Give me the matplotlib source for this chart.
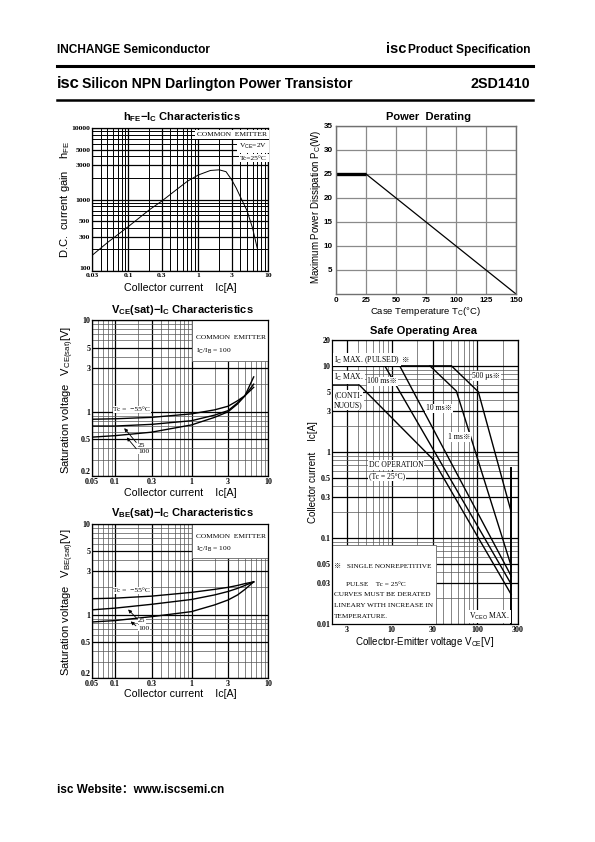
import matplotlib
matplotlib.use("Agg")
import matplotlib.pyplot as plt
from matplotlib.patches import Rectangle
from matplotlib.ticker import FixedLocator, FixedFormatter, NullFormatter, LogLocator, MultipleLocator

plt.rcParams['mathtext.fontset'] = 'custom'
plt.rcParams['mathtext.rm'] = 'Liberation Sans'
plt.rcParams['mathtext.bf'] = 'Liberation Sans:bold'
plt.rcParams['font.family'] = ['Liberation Sans', 'DejaVu Sans']

W, H = 595, 842

# hFE - Ic  (VCE = 2V, Tc = 25C)
hfe_ic = [0.03, 0.05, 0.1, 0.2, 0.3, 0.5, 0.7, 1.0, 1.5, 2.0, 2.5, 3.0, 3.5, 4.0, 5.0, 6.0, 7.0]
hfe_val = [165, 250, 420, 720, 950, 1400, 1800, 2200, 2550, 2600, 2450, 1900, 1450, 1100, 700, 400, 210]

# power derating
pd_tc = [0, 25, 150]
pd_pc = [25, 25, 0]

# saturation voltages, Ic/Ib = 100
sat_ic = [0.05, 0.1, 0.3, 1, 2, 3, 4, 5, 6.5]
vce_m55 = [0.83, 0.84, 0.87, 0.95, 1.05, 1.15, 1.32, 1.5, 1.85]
vce_25 = [0.70, 0.70, 0.73, 0.80, 0.92, 1.03, 1.25, 1.5, 2.0]
vce_100 = [0.53, 0.55, 0.60, 0.72, 0.87, 1.0, 1.22, 1.5, 2.4]
vbe_m55 = [1.5, 1.52, 1.6, 1.76, 1.9, 2.0, 2.1, 2.2, 2.3]
vbe_25 = [1.13, 1.18, 1.3, 1.47, 1.65, 1.8, 1.95, 2.1, 2.3]
vbe_100 = [0.83, 0.86, 0.95, 1.08, 1.28, 1.45, 1.65, 1.9, 2.3]

# safe operating area
dc_v = [2, 4.17, 30, 250]
dc_i = [6, 6, 0.83, 0.022]
ms100_v = [8.3, 250]
ms100_i = [10, 0.029]
ms10_v = [12.4, 250]
ms10_i = [10, 0.036]
ms1_v = [28, 57, 250]
ms1_i = [10, 5.1, 0.047]
us500_v = [50, 103, 250, 250]
us500_i = [10, 5.0, 0.2, 0.65]
vceo = 250
ic_pulse = 10
ic_cont = 6

log_x_ticks = [0.03, 0.1, 0.3, 1, 3, 10]
sat_x_ticks = [0.05, 0.1, 0.3, 1, 3, 10]
sat_y_ticks = [0.2, 0.5, 1, 3, 5, 10]
hfe_y_ticks = [100, 300, 500, 1000, 3000, 5000, 10000]
soa_x_ticks = [3, 10, 30, 100, 300]
soa_y_ticks = [0.01, 0.03, 0.05, 0.1, 0.3, 0.5, 1, 3, 5, 10, 20]

SERIF = ['Liberation Serif', 'DejaVu Serif', 'Noto Sans CJK JP']

fig = plt.figure(figsize=(W / 100, H / 100), dpi=100)


def box(l, t, r, b):
    return [l / W, 1 - b / H, (r - l) / W, (b - t) / H]


def log_axes(rect, xlim, ylim, xt, yt, tsize=5.8):
    ax = fig.add_axes(rect)
    ax.set_xscale('log')
    ax.set_yscale('log')
    ax.set_xlim(*xlim)
    ax.set_ylim(*ylim)
    ax.xaxis.set_major_locator(FixedLocator(xt))
    ax.xaxis.set_major_formatter(FixedFormatter([('%g' % v) for v in xt]))
    ax.yaxis.set_major_locator(FixedLocator(yt))
    ax.yaxis.set_major_formatter(FixedFormatter([('%g' % v) for v in yt]))
    ax.xaxis.set_minor_locator(LogLocator(base=10, subs=range(1, 10), numticks=50))
    ax.yaxis.set_minor_locator(LogLocator(base=10, subs=range(1, 10), numticks=50))
    ax.xaxis.set_minor_formatter(NullFormatter())
    ax.yaxis.set_minor_formatter(NullFormatter())
    ax.tick_params(which='both', length=0, pad=1.2)
    labs = ax.get_xticklabels() + ax.get_yticklabels()
    for lab in labs:
        lab.set_family(SERIF)
        lab.set_fontsize(tsize)
        lab.set_weight('bold')
    # bottom-left corner: lift the lowest y label so it clears the first x label
    if xt[0] == xlim[0]:
        ax.get_yticklabels()[0].set_va('bottom')
    ax.grid(which='minor', color='#555555', lw=0.5)
    ax.grid(which='major', color='black', lw=0.9)
    ax.set_axisbelow(True)
    for s in ax.spines.values():
        s.set_linewidth(0.9)
    return ax


def title(x, y, s):
    fig.text(x / W, 1 - y / H, s, ha='center', va='center', fontsize=8, weight='bold')


def label(x, y, s, rot=0, size=7.7):
    fig.text(x / W, 1 - y / H, s, ha='center', va='center', fontsize=size, rotation=rot)


# ---------------- header / footer ----------------
fig.text(57 / W, 1 - 50 / H, 'INCHANGE Semiconductor', fontsize=8.6, weight='bold', va='center')
fig.text(386 / W, 1 - 49 / H, 'isc', fontsize=10.5, weight='bold', va='center')
fig.text(530 / W, 1 - 50 / H, 'Product Specification', fontsize=8.6, weight='bold', va='center', ha='right')
fig.add_artist(plt.Line2D([57 / W, 533 / W], [1 - 66 / H, 1 - 66 / H], color='black', lw=2.2))
fig.text(57 / W, 1 - 84 / H, 'isc', fontsize=12, weight='bold', va='center')
fig.text(82 / W, 1 - 84 / H, 'Silicon NPN Darlington Power Transistor', fontsize=10.1, weight='bold', va='center')
fig.text(530 / W, 1 - 84 / H, '2SD1410', fontsize=10.3, weight='bold', va='center', ha='right')
fig.add_artist(plt.Line2D([57 / W, 533 / W], [1 - 100 / H, 1 - 100 / H], color='black', lw=1.8))
fig.text(57 / W, 1 - 790 / H, 'isc Website\uff1awww.iscsemi.cn', fontsize=8.5, weight='bold', va='center',
         family=['Liberation Sans', 'Noto Sans CJK SC'])

# ---------------- hFE - Ic ----------------
ax1 = log_axes(box(92, 128, 268, 271), (0.03, 10), (100, 10000), log_x_ticks, hfe_y_ticks, tsize=5.4)
ax1.grid(which='minor', color='black', lw=0.7)
ax1.plot(hfe_ic, hfe_val, color='black', lw=0.7)
tkw = dict(transform=ax1.transAxes, ha='right', va='center', fontsize=5.4, family=SERIF,
           bbox=dict(fc='white', ec='none', pad=1.2))
ax1.text(0.995, 0.955, 'COMMON  EMITTER', **tkw)
ax1.text(0.995, 0.87, 'V$_{\\rm CE}$=2V', **tkw)
ax1.text(0.995, 0.79, 'Tc=25\u00b0C', **tkw)
title(182, 117, 'h$_{\\bf FE}$\u2212I$_{\\bf C}$ Characteristics')
label(180, 288, 'Collector current    Ic[A]')
label(65, 199, 'D.C.  current gain    h$_{\\rm FE}$', rot=90, size=8)

# ---------------- Power derating ----------------
ax2 = fig.add_axes(box(336, 126, 516, 294))
ax2.plot(pd_tc[:2], pd_pc[:2], color='black', lw=2.4, solid_capstyle='butt')
ax2.plot(pd_tc[1:], pd_pc[1:], color='black', lw=0.9)
ax2.set_xlim(0, 150)
ax2.set_ylim(0, 35)
ax2.xaxis.set_major_locator(MultipleLocator(25))
ax2.set_yticks([5, 10, 15, 20, 25, 30, 35])
ax2.grid(color='#8a8a8a', lw=0.9)
ax2.set_axisbelow(True)
ax2.tick_params(length=0, pad=2.5, labelsize=5.8)
for lab in ax2.get_xticklabels() + ax2.get_yticklabels():
    lab.set_weight('bold')
for s in ax2.spines.values():
    s.set_color('#707070')
    s.set_linewidth(1.0)
title(428, 117, 'Power  Derating')
label(426, 311, 'Case Temperature T$_{\\rm C}$(\u00b0C)', size=6.8)
label(316, 207, 'Maximum Power Dissipation P$_{\\rm C}$(W)', rot=90, size=7)

# ---------------- VCE(sat) - Ic ----------------
ax3 = log_axes(box(92, 320, 268, 476), (0.05, 10), (0.2, 10), sat_x_ticks, sat_y_ticks)
ax3.add_patch(Rectangle((1, 3.6), 9, 6.4, fc='white', ec='#666666', lw=0.6, zorder=1.5))
for v in (vce_m55, vce_25, vce_100):
    ax3.plot(sat_ic, v, color='black', lw=1.0, zorder=3)
skw = dict(ha='left', va='center', fontsize=5.4, family=SERIF, zorder=4)
ax3.text(1.15, 6.4, 'COMMON  EMITTER', **skw)
ax3.text(1.15, 4.6, 'I$_{\\rm C}$/I$_{\\rm B}$ = 100', **skw)
ax3.text(0.095, 1.06, 'Tc =  \u221255\u00b0C', bbox=dict(fc='white', ec='none', pad=0.5), **skw)
ax3.text(0.2, 0.43, '25', bbox=dict(fc='white', ec='none', pad=0.3), **skw)
ax3.text(0.2, 0.37, '100', bbox=dict(fc='white', ec='none', pad=0.3), **skw)
ax3.annotate('', xy=(0.125, 0.70), xytext=(0.2, 0.44),
             arrowprops=dict(arrowstyle='-|>', lw=0.6, color='black', mutation_scale=5), zorder=4)
ax3.annotate('', xy=(0.135, 0.555), xytext=(0.2, 0.375),
             arrowprops=dict(arrowstyle='-|>', lw=0.6, color='black', mutation_scale=5), zorder=4)
title(182, 310, 'V$_{\\bf CE}$(sat)\u2212I$_{\\bf C}$ Characteristics')
label(180, 493, 'Collector current    Ic[A]')
label(68, 400, 'Saturation voltage   V$_{\\rm CE(sat)}$[V]', rot=90, size=8)

# ---------------- VBE(sat) - Ic ----------------
ax4 = log_axes(box(92, 524, 268, 678), (0.05, 10), (0.2, 10), sat_x_ticks, sat_y_ticks)
ax4.add_patch(Rectangle((1, 4.2), 9, 5.8, fc='white', ec='#666666', lw=0.6, zorder=1.5))
for v in (vbe_m55, vbe_25, vbe_100):
    ax4.plot(sat_ic, v, color='black', lw=1.0, zorder=3)
ax4.text(1.15, 7.3, 'COMMON  EMITTER', **skw)
ax4.text(1.15, 5.3, 'I$_{\\rm C}$/I$_{\\rm B}$ = 100', **skw)
ax4.text(0.095, 1.85, 'Tc =  \u221255\u00b0C', bbox=dict(fc='white', ec='none', pad=0.5), **skw)
ax4.text(0.2, 0.86, '25', bbox=dict(fc='white', ec='none', pad=0.3), **skw)
ax4.text(0.2, 0.71, '100', bbox=dict(fc='white', ec='none', pad=0.3), **skw)
ax4.annotate('', xy=(0.14, 1.2), xytext=(0.2, 0.88),
             arrowprops=dict(arrowstyle='-|>', lw=0.6, color='black', mutation_scale=5), zorder=4)
ax4.annotate('', xy=(0.15, 0.88), xytext=(0.2, 0.72),
             arrowprops=dict(arrowstyle='-|>', lw=0.6, color='black', mutation_scale=5), zorder=4)
title(182, 513, 'V$_{\\bf BE}$(sat)\u2212I$_{\\bf C}$ Characteristics')
label(180, 694, 'Collector current    Ic[A]')
label(68, 602, 'Saturation voltage   V$_{\\rm BE(sat)}$[V]', rot=90, size=8)

# ---------------- Safe operating area ----------------
ax5 = log_axes(box(332, 340, 518, 624), (2, 300), (0.01, 20), soa_x_ticks, soa_y_ticks)
ax5.add_patch(Rectangle((2, 0.01), 31, 0.072, fc='white', ec='#666666', lw=0.6, zorder=1.5))
ax5.plot([2, us500_v[0]], [ic_pulse, ic_pulse], color='black', lw=1.2, zorder=3)
for vv, ii in ((dc_v, dc_i), (ms100_v, ms100_i), (ms10_v, ms10_i), (ms1_v, ms1_i), (us500_v, us500_i)):
    ax5.plot(vv, ii, color='black', lw=1.0, zorder=3)
ax5.plot([vceo, vceo], [0.01, us500_i[-1]], color='black', lw=1.4, zorder=3)
kw = dict(fontsize=5.5, family=SERIF, zorder=4, va='center', ha='left')
wb = dict(fc='white', ec='none', pad=0.6)
t = ax5.text(2.12, 11.8, 'I$_{\\rm C}$ MAX. (PULSED)', bbox=wb, **kw)
ax5.annotate(' \u203b', xy=(1, 0.5), xycoords=t, fontsize=5.5, family=SERIF, va='center', ha='left',
             zorder=4, bbox=wb)
ax5.text(2.12, 7.4, 'I$_{\\rm C}$ MAX.', bbox=wb, **kw)
ax5.text(2.12, 4.6, '(CONTI-', bbox=wb, **kw)
ax5.text(2.12, 3.5, 'NUOUS)', bbox=wb, **kw)
ax5.text(5.2, 6.6, '100 ms\u203b', bbox=wb, **kw)
ax5.text(25, 3.2, '10 ms\u203b', bbox=wb, **kw)
ax5.text(45, 1.5, '1 ms\u203b', bbox=wb, **kw)
ax5.text(88, 7.6, '500 \u00b5s\u203b', bbox=wb, **kw)
ax5.text(5.4, 0.71, 'DC OPERATION', bbox=wb, **kw)
ax5.text(5.4, 0.52, '(Tc = 25\u00b0C)', bbox=wb, **kw)
fkw = dict(kw, fontsize=5.2)
ax5.text(2.12, 0.047, '\u203b   SINGLE NONREPETITIVE', **fkw)
ax5.text(2.9, 0.029, 'PULSE    Tc = 25\u00b0C', **fkw)
ax5.text(2.12, 0.022, 'CURVES MUST BE DERATED', **fkw)
ax5.text(2.12, 0.0166, 'LINEARY WITH INCREASE IN', **fkw)
ax5.text(2.12, 0.0123, 'TEMPERATURE.', **fkw)
ax5.text(240, 0.0123, 'V$_{\\rm CEO}$ MAX.', bbox=wb, fontsize=5.5, family=SERIF, zorder=4, va='center', ha='right')
title(424, 331, 'Safe Operating Area')
label(425, 642, 'Collector-Emitter voltage V$_{\\rm CE}$[V]', size=7)
label(313, 472, 'Collector current    Ic[A]', rot=90, size=7)

fig.savefig('out.png', dpi=100)
